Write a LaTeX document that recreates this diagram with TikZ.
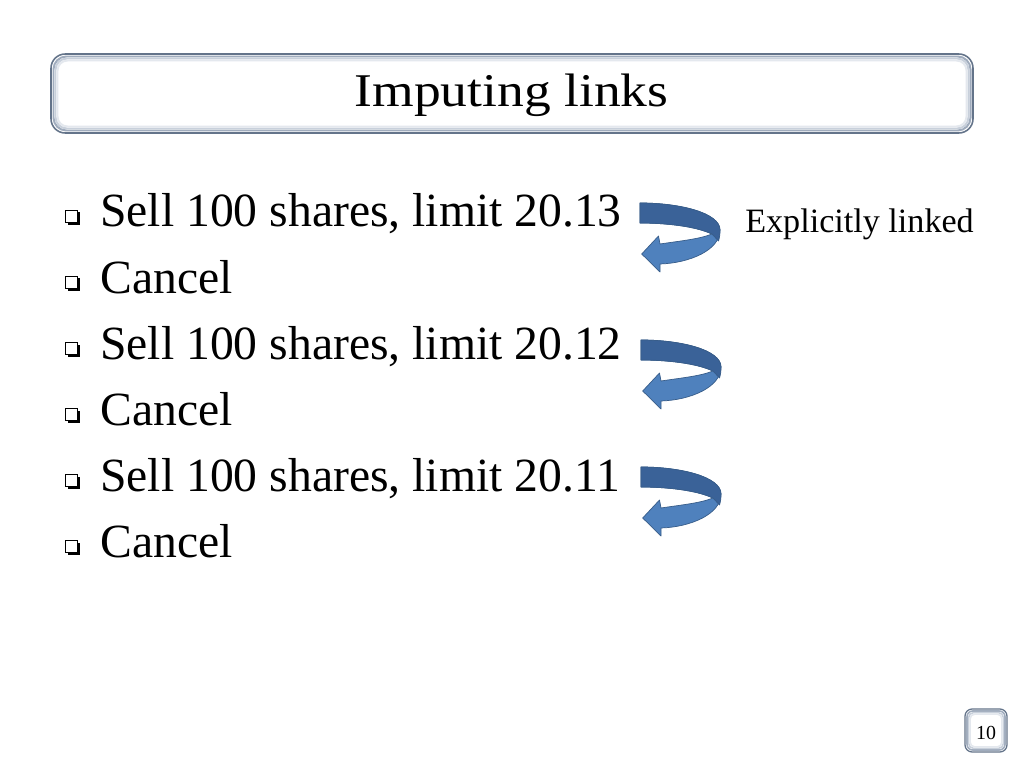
\documentclass[tikz,border=0pt]{standalone}
\usepackage{fontspec}
\setmainfont{Liberation Serif}
\usepackage{graphicx}
\definecolor{arrlight}{RGB}{79,129,189}
\definecolor{arrdark}{RGB}{58,98,152}
\definecolor{arrline}{RGB}{56,93,138}
\definecolor{boxline}{RGB}{100,116,138}
\definecolor{glowa}{RGB}{160,172,189}
\definecolor{glowb}{RGB}{200,208,219}
\definecolor{glowc}{RGB}{228,232,238}
\tikzset{
  curvarrow/.pic={
    \path[fill=arrlight, draw=arrline, line width=0.5pt, line join=round]
      (0,0) .. controls (40,0) and (80,10) .. (80,27)
      .. controls (80,47) and (50,60) .. (20,61)
      -- (20,69) -- (1.7,51) -- (18.5,33) -- (20,41)
      .. controls (40,38) and (60,36) .. (72,31)
      .. controls (55,23) and (25,20) .. (0,20) -- cycle;
    \path[fill=arrdark, draw=arrline, line width=0.5pt, line join=round]
      (0,0) .. controls (40,0) and (80,10) .. (80,27)
      .. controls (80,31) and (79.5,35) .. (78.5,38)
      -- (72,31)
      .. controls (55,23) and (25,20) .. (0,20) -- cycle;
  },
  bulletsq/.pic={
    \fill[black] (2.5,2.5) rectangle (15,15);
    \path[fill=white, draw=black, line width=0.7pt] (0,0) rectangle (12.5,12.5);
  },
  itemtext/.style={anchor=base west, inner sep=0pt, font=\fontsize{33.5}{40}\selectfont},
}
\begin{document}
\begin{tikzpicture}[x=0.703125pt,y=-0.703125pt]
\useasboundingbox (0,0) rectangle (1024,768);
\fill[white] (0,0) rectangle (1024,768);

% title box
\path[fill=white, draw=boxline, line width=1.1pt, rounded corners=10pt] (51,54) rectangle (973,133);
\draw[glowa, line width=1.4pt, rounded corners=9pt] (53.5,56.5) rectangle (970.5,130.5);
\draw[glowb, line width=1.4pt, rounded corners=8pt] (55.5,58.5) rectangle (968.5,128.5);
\draw[glowc, line width=1.4pt, rounded corners=7pt] (57.5,60.5) rectangle (966.5,126.5);
\node[anchor=base, inner sep=0pt] (title) at (511.5,107)
  {\fontsize{33}{38}\selectfont\scalebox{1.14}[1]{Imputing links}};

% bullets
\foreach \b/\t [count=\i] in {227/{Sell 100 shares, limit 20.13},
                              293/{Cancel},
                              359/{Sell 100 shares, limit 20.12},
                              425/{Cancel},
                              491/{Sell 100 shares, limit 20.11},
                              557/{Cancel}} {
  \pic at (65,\b-17) {bulletsq};
  \node[itemtext] (item\i) at (100,\b) {\t};
}

% curved arrows
\pic at (640,203) {curvarrow};
\pic at (641,340) {curvarrow};
\pic at (641,467) {curvarrow};

\node[anchor=base west, inner sep=0pt, font=\fontsize{24}{28}\selectfont] (expl) at (745,233) {Explicitly linked};

% page number
\path[fill=white, draw=boxline, line width=0.9pt, rounded corners=5pt] (965,709) rectangle (1007,752);
\draw[glowa, line width=1.1pt, rounded corners=4pt] (967,711) rectangle (1005,750);
\draw[glowb, line width=1.1pt, rounded corners=3.5pt] (968.6,712.6) rectangle (1003.4,748.4);
\draw[glowc, line width=1.1pt, rounded corners=3pt] (970.2,714.2) rectangle (1001.8,746.8);
\node[anchor=base, inner sep=0pt, font=\fontsize{14}{16}\selectfont] (pnum) at (986,739.5) {10};
\end{tikzpicture}
\end{document}
